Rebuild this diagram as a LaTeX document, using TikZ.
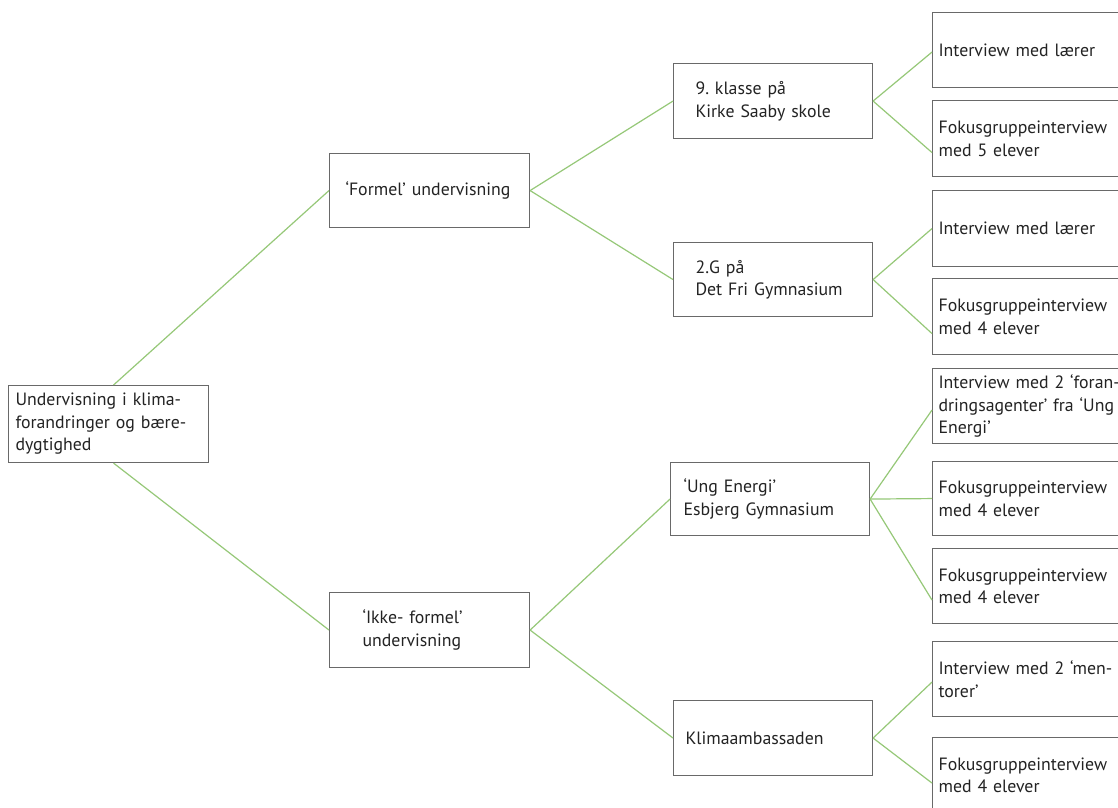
\documentclass[tikz,border=0pt]{standalone}
\usepackage{fontspec}
\setmainfont{PT Sans}[WordSpace=0.55]
\frenchspacing
\usetikzlibrary{calc}
\definecolor{linegreen}{RGB}{150,200,120}
\definecolor{boxgray}{RGB}{105,105,105}
\definecolor{textgray}{RGB}{35,35,35}
\tikzset{
  box/.style={draw=boxgray, line width=1.1pt, rectangle, anchor=north west, align=left,
    inner ysep=0pt, font=\fontsize{17.8}{22.5}\selectfont, text=textgray},
  bx/.style n args={3}{box, minimum height=#2, inner xsep=#3, text width=#1-2*#3},
  conn/.style={draw=linegreen, line width=1.2pt}
}
\begin{document}
\begin{tikzpicture}[x=1pt,y=-1pt]
\clip (0,0) rectangle (1118,807);
\fill[white] (0,0) rectangle (1118,807);
% level 0
\node[bx={200pt}{77pt}{7pt}] (root) at (8,385) {Undervisning i klima-\\forandringer og bære-\\dygtighed};
% level 1
\node[bx={200pt}{74pt}{16pt}] (formel) at (329,153) {\mbox{‘Formel’ undervisning}};
\node[bx={200pt}{75pt}{33pt}] (ikke) at (329,592) {‘Ikke- formel’\\undervisning};
% level 2
\node[bx={199pt}{75pt}{22pt}] (k9) at (673,63) {9. klasse på\\\mbox{Kirke Saaby skole}};
\node[bx={199pt}{74pt}{22pt}] (g2) at (673,242) {2.G på\\\mbox{Det Fri Gymnasium}};
\node[bx={199pt}{73pt}{13pt}] (ung) at (670,462) {‘Ung Energi’\\\mbox{Esbjerg Gymnasium}};
\node[bx={199pt}{75pt}{12pt}] (klima) at (673,700) {Klimaambassaden};
% level 3
\node[bx={200pt}{75pt}{6pt}] (r1) at (932,12) {Interview med lærer};
\node[bx={200pt}{76pt}{6pt}] (r2) at (932,100) {Fokusgruppeinterview\\med 5 elever};
\node[bx={200pt}{76pt}{6pt}] (r3) at (932,190) {Interview med lærer};
\node[bx={200pt}{76pt}{6pt}] (r4) at (932,278) {Fokusgruppeinterview\\med 4 elever};
\node[bx={200pt}{75pt}{6pt}] (r5) at (932,368) {\mbox{Interview med 2 ‘foran-}\\\mbox{dringsagenter’ fra ‘Ung}\\Energi’};
\node[bx={200pt}{74pt}{6pt}] (r6) at (932,461) {Fokusgruppeinterview\\med 4 elever};
\node[bx={200pt}{75pt}{6pt}] (r7) at (932,548) {Fokusgruppeinterview\\med 4 elever};
\node[bx={200pt}{75pt}{6pt}] (r8) at (932,641) {\mbox{Interview med 2 ‘men-}\\torer’};
\node[bx={200pt}{75pt}{6pt}] (r9) at (932,737) {Fokusgruppeinterview\\med 4 elever};
% connectors
\draw[conn] ($(root.north)+(5,0)$) -- (formel.west);
\draw[conn] ($(root.south)+(5,0)$) -- (ikke.west);
\draw[conn] (formel.east) -- (k9.west);
\draw[conn] (formel.east) -- (g2.west);
\draw[conn] (ikke.east) -- (ung.west);
\draw[conn] (ikke.east) -- (klima.west);
\draw[conn] (k9.east) -- ($(r1.west)+(0,2)$);
\draw[conn] (k9.east) -- ($(r2.west)+(0,14)$);
\draw[conn] (g2.east) -- (r3.west);
\draw[conn] (g2.east) -- ($(r4.west)+(0,17)$);
\draw[conn] (ung.east) -- ($(r5.west)+(0,4)$);
\draw[conn] (ung.east) -- (r6.west);
\draw[conn] (ung.east) -- ($(r7.west)+(0,14)$);
\draw[conn] (klima.east) -- ($(r8.west)+(0,3)$);
\draw[conn] (klima.east) -- ($(r9.west)+(0,8)$);
\end{tikzpicture}
\end{document}
